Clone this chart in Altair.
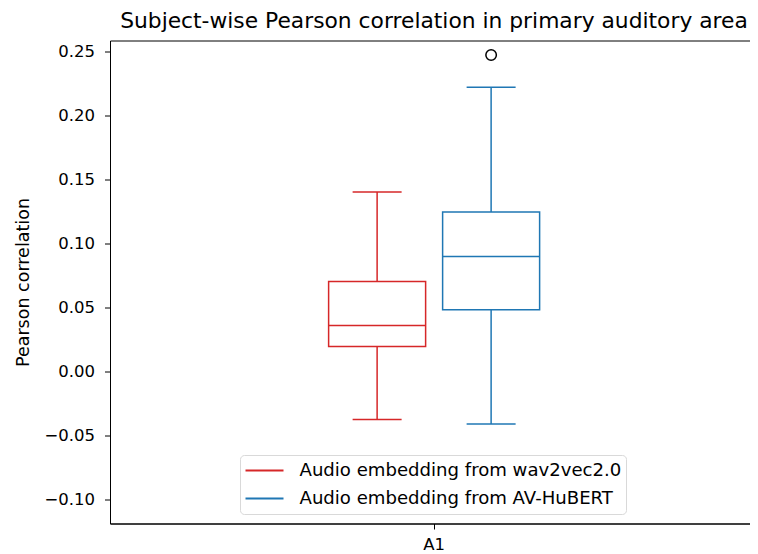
import altair as alt
import pandas as pd

# ---- data ----
region = "A1"
series = ["Audio embedding from wav2vec2.0", "Audio embedding from AV-HuBERT"]
colors = ["#d62728", "#1f77b4"]
whisker_low = [-0.0377, -0.0411]
q1 = [0.0195, 0.0482]
median = [0.0359, 0.0898]
q3 = [0.0703, 0.1245]
whisker_high = [0.1402, 0.2222]
outlier_series = ["Audio embedding from AV-HuBERT"]
outlier_values = [0.2474]
y_ticks = [-0.10, -0.05, 0.00, 0.05, 0.10, 0.15, 0.20, 0.25]

FONT = "DejaVu Sans"

boxes = pd.DataFrame({
    "region": region, "series": series,
    "low": whisker_low, "q1": q1, "median": median, "q3": q3, "high": whisker_high,
})
whiskers = pd.concat([
    pd.DataFrame({"region": region, "series": series, "a": whisker_low, "b": q1}),
    pd.DataFrame({"region": region, "series": series, "a": q3, "b": whisker_high}),
])
caps = pd.concat([
    pd.DataFrame({"region": region, "series": series, "v": whisker_low}),
    pd.DataFrame({"region": region, "series": series, "v": whisker_high}),
])
outliers = pd.DataFrame({"region": region, "series": outlier_series, "v": outlier_values})

yscale = alt.Scale(domain=[-0.119, 0.2587], nice=False, zero=False)
xenc = alt.X("region:N", scale=alt.Scale(paddingInner=0, paddingOuter=0.9035, align=0.51),
             axis=alt.Axis(title=None, labelAngle=0, labelFontSize=16.5, labelFont=FONT,
                           labelColor="black", tickColor="black", domainColor="black",
                           tickSize=5.5, labelPadding=7, domainWidth=1))
xoff = alt.XOffset("series:N", scale=alt.Scale(domain=series, paddingInner=0, paddingOuter=0))
color = alt.Color("series:N", scale=alt.Scale(domain=series, range=colors),
                  legend=alt.Legend(title=None, orient="none", legendX=130, legendY=414.5,
                                    symbolType="stroke", symbolSize=1444, symbolStrokeWidth=1.8,
                                    labelFontSize=18.1, labelFont=FONT, labelColor="black",
                                    labelOffset=15, padding=4.5, rowPadding=6, clipHeight=22,
                                    strokeColor="#d9d9d9", cornerRadius=4, fillColor="white",
                                    labelLimit=0))
yaxis = alt.Axis(title="Pearson correlation", values=y_ticks, format=".2f", grid=False,
                 labelFontSize=16.5, labelFont=FONT, labelColor="black",
                 titleFontSize=17.5, titleFont=FONT, titleFontWeight="normal", titleColor="black",
                 titlePadding=11, tickColor="black", domainColor="black", tickSize=5.5,
                 labelPadding=10)

whisker_layer = alt.Chart(whiskers).mark_rule(strokeWidth=1.5).encode(
    x=xenc, xOffset=xoff,
    y=alt.Y("a:Q", scale=yscale, axis=yaxis), y2="b:Q", color=color)

box_layer = alt.Chart(boxes).mark_bar(filled=False, fill="transparent", strokeWidth=1.5, size=97).encode(
    x=xenc, xOffset=xoff, y=alt.Y("q1:Q", scale=yscale), y2="q3:Q", color=color)

median_layer = alt.Chart(boxes).mark_tick(thickness=1.5, size=97, opacity=1).encode(
    x=xenc, xOffset=xoff, y=alt.Y("median:Q", scale=yscale), color=color)

cap_layer = alt.Chart(caps).mark_tick(thickness=1.5, size=49, opacity=1).encode(
    x=xenc, xOffset=xoff, y=alt.Y("v:Q", scale=yscale), color=color)

outlier_layer = alt.Chart(outliers).mark_point(shape="circle", filled=False, size=110, opacity=1,
                                              stroke="black", strokeWidth=1.5).encode(
    x=xenc, xOffset=xoff, y=alt.Y("v:Q", scale=yscale))

chart = alt.layer(whisker_layer, box_layer, median_layer, cap_layer, outlier_layer).properties(
    width=640, height=483,
    title=alt.Title("Subject-wise Pearson correlation in primary auditory area",
                    fontSize=21.8, font=FONT, fontWeight="normal", color="black", offset=8, dx=4),
    autosize=alt.AutoSizeParams(type="none"),
    padding={"left": 102, "top": 32.5, "right": 0, "bottom": 30},
).configure(background="white").configure_view(stroke="black", strokeWidth=1)

chart.save("out.html", embed_options={"renderer": "svg", "actions": False})
